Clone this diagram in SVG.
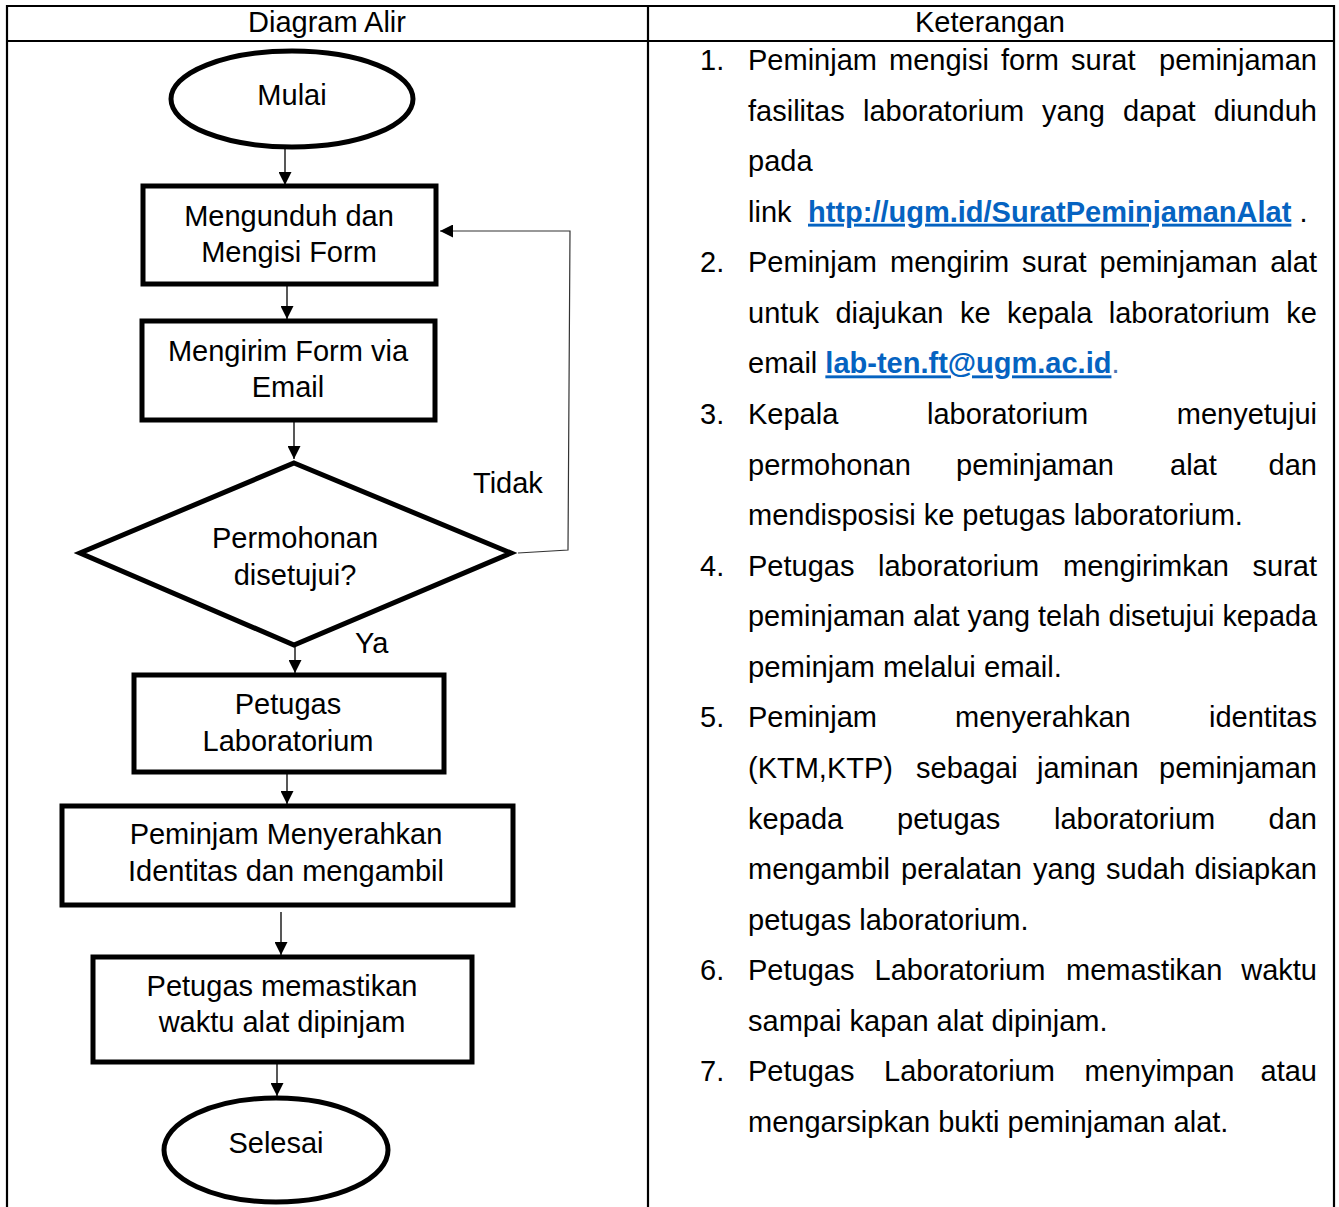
<svg xmlns="http://www.w3.org/2000/svg" width="1339" height="1207" viewBox="0 0 1339 1207">
<style>
.t{font-family:"Liberation Sans",Arial,sans-serif;font-size:29px;fill:#000}
.c{text-anchor:middle}
.e{text-anchor:end}
.lnk{fill:#0563C1;font-weight:bold;text-decoration:underline}
.shape{fill:#fff;stroke:#000;stroke-width:5}
.grid{stroke:#000;stroke-width:2.2;fill:none}
.conn{stroke:#111;stroke-width:1.4;fill:none}
.loop{stroke:#333;stroke-width:1.2;fill:none}
</style>
<defs>
<marker id="ah" markerUnits="userSpaceOnUse" markerWidth="14" markerHeight="13" refX="13" refY="6.5" orient="auto">
<path d="M0,0 L13,6.5 L0,13 z" fill="#000"/>
</marker>
</defs>
<rect width="1339" height="1207" fill="#fff"/>

<g id="table">
<path class="grid" d="M7,1207 V6 H1334 V1207 M7,41 H1334 M648,6 V1207"/>
<text class="t c" x="327" y="32">Diagram Alir</text>
<text class="t c" x="990" y="32">Keterangan</text>
</g>

<g id="connectors">
<line class="conn" x1="285" y1="148" x2="285" y2="185" marker-end="url(#ah)"/>
<line class="conn" x1="287" y1="277" x2="287" y2="319" marker-end="url(#ah)"/>
<line class="conn" x1="294" y1="420" x2="294" y2="459" marker-end="url(#ah)"/>
<line class="conn" x1="295" y1="632" x2="295" y2="673" marker-end="url(#ah)"/>
<line class="conn" x1="287" y1="763" x2="287" y2="804" marker-end="url(#ah)"/>
<line class="conn" x1="281" y1="912" x2="281" y2="955" marker-end="url(#ah)"/>
<line class="conn" x1="277" y1="1055" x2="277" y2="1096" marker-end="url(#ah)"/>
<polyline class="loop" points="518,553 568,550 570,231 440,231" marker-end="url(#ah)"/>
<text class="t" x="473" y="493">Tidak</text>
<text class="t" x="355" y="653">Ya</text>
</g>

<g id="n-mulai">
<ellipse class="shape" cx="292" cy="99" rx="121" ry="48"/>
<text class="t c" x="292" y="105">Mulai</text>
</g>
<g id="n-unduh">
<rect class="shape" x="143" y="186" width="293" height="98"/>
<text class="t c" x="289" y="226">Mengunduh dan</text>
<text class="t c" x="289" y="262">Mengisi Form</text>
</g>
<g id="n-kirim">
<rect class="shape" x="142" y="321" width="293" height="99"/>
<text class="t c" x="288" y="361">Mengirim Form via</text>
<text class="t c" x="288" y="397">Email</text>
</g>
<g id="n-setuju">
<polygon class="shape" points="294,463 511,553 294,645 80,553"/>
<text class="t c" x="295" y="548">Permohonan</text>
<text class="t c" x="295" y="585">disetujui?</text>
</g>
<g id="n-petugas">
<rect class="shape" x="134" y="675" width="310" height="97"/>
<text class="t c" x="288" y="714">Petugas</text>
<text class="t c" x="288" y="751">Laboratorium</text>
</g>
<g id="n-serah">
<rect class="shape" x="62" y="806" width="451" height="99"/>
<text class="t c" x="286" y="844">Peminjam Menyerahkan</text>
<text class="t c" x="286" y="881">Identitas dan mengambil</text>
</g>
<g id="n-waktu">
<rect class="shape" x="93" y="957" width="379" height="105"/>
<text class="t c" x="282" y="996">Petugas memastikan</text>
<text class="t c" x="282" y="1032">waktu alat dipinjam</text>
</g>
<g id="n-selesai">
<ellipse class="shape" cx="276" cy="1150" rx="112" ry="52"/>
<text class="t c" x="276" y="1153">Selesai</text>
</g>

<g id="keterangan">
<text class="t" x="700" y="70">1.</text>
<text class="t" x="748" y="70">Peminjam</text>
<text class="t" x="889" y="70">mengisi</text>
<text class="t" x="1001" y="70">form</text>
<text class="t" x="1071" y="70">surat</text>
<text class="t e" x="1317" y="70">peminjaman</text>

<text class="t" x="748" y="120.6">fasilitas</text>
<text class="t" x="863" y="120.6">laboratorium</text>
<text class="t" x="1042" y="120.6">yang</text>
<text class="t" x="1123" y="120.6">dapat</text>
<text class="t e" x="1317" y="120.6">diunduh</text>

<text class="t" x="748" y="171.1">pada</text>

<text class="t" x="748" y="221.7">link</text>
<text class="t" x="808" y="221.7"><tspan class="lnk">http://ugm.id/SuratPeminjamanAlat</tspan> .</text>

<text class="t" x="700" y="272.3">2.</text>
<text class="t" x="748" y="272.3">Peminjam</text>
<text class="t" x="890" y="272.3">mengirim</text>
<text class="t" x="1022" y="272.3">surat</text>
<text class="t" x="1099.5" y="272.3">peminjaman</text>
<text class="t e" x="1317" y="272.3">alat</text>

<text class="t" x="748" y="322.9">untuk</text>
<text class="t" x="835.4" y="322.9">diajukan</text>
<text class="t" x="960" y="322.9">ke</text>
<text class="t" x="1007" y="322.9">kepala</text>
<text class="t" x="1108.8" y="322.9">laboratorium</text>
<text class="t e" x="1317" y="322.9">ke</text>

<text class="t" x="748" y="373.4">email <tspan class="lnk">lab-ten.ft@ugm.ac.id</tspan><tspan fill="#4a72b0">.</tspan></text>

<text class="t" x="700" y="424">3.</text>
<text class="t" x="748" y="424">Kepala</text>
<text class="t" x="927" y="424">laboratorium</text>
<text class="t e" x="1317" y="424">menyetujui</text>

<text class="t" x="748" y="474.6">permohonan</text>
<text class="t" x="956" y="474.6">peminjaman</text>
<text class="t" x="1170" y="474.6">alat</text>
<text class="t e" x="1317" y="474.6">dan</text>

<text class="t" x="748" y="525.1">mendisposisi ke petugas laboratorium.</text>

<text class="t" x="700" y="575.7">4.</text>
<text class="t" x="748" y="575.7">Petugas</text>
<text class="t" x="878" y="575.7">laboratorium</text>
<text class="t" x="1063" y="575.7">mengirimkan</text>
<text class="t e" x="1317" y="575.7">surat</text>

<text class="t" x="748" y="626.3" textLength="569" lengthAdjust="spacingAndGlyphs">peminjaman alat yang telah disetujui kepada</text>

<text class="t" x="748" y="676.8" textLength="314" lengthAdjust="spacingAndGlyphs">peminjam melalui email.</text>

<text class="t" x="700" y="727.4">5.</text>
<text class="t" x="748" y="727.4">Peminjam</text>
<text class="t" x="955" y="727.4">menyerahkan</text>
<text class="t e" x="1317" y="727.4">identitas</text>

<text class="t" x="748" y="778">(KTM,KTP)</text>
<text class="t" x="916" y="778">sebagai</text>
<text class="t" x="1037" y="778">jaminan</text>
<text class="t e" x="1317" y="778">peminjaman</text>

<text class="t" x="748" y="828.6">kepada</text>
<text class="t" x="897" y="828.6">petugas</text>
<text class="t" x="1054" y="828.6">laboratorium</text>
<text class="t e" x="1317" y="828.6">dan</text>

<text class="t" x="748" y="879.1">mengambil</text>
<text class="t" x="901" y="879.1">peralatan</text>
<text class="t" x="1033" y="879.1">yang</text>
<text class="t" x="1106" y="879.1">sudah</text>
<text class="t e" x="1317" y="879.1">disiapkan</text>

<text class="t" x="748" y="929.7">petugas laboratorium.</text>

<text class="t" x="700" y="980.3">6.</text>
<text class="t" x="748" y="980.3">Petugas</text>
<text class="t" x="874.5" y="980.3">Laboratorium</text>
<text class="t" x="1066" y="980.3">memastikan</text>
<text class="t e" x="1317" y="980.3">waktu</text>

<text class="t" x="748" y="1030.8">sampai kapan alat dipinjam.</text>

<text class="t" x="700" y="1081.4">7.</text>
<text class="t" x="748" y="1081.4">Petugas</text>
<text class="t" x="884" y="1081.4">Laboratorium</text>
<text class="t" x="1084.5" y="1081.4">menyimpan</text>
<text class="t e" x="1317" y="1081.4">atau</text>

<text class="t" x="748" y="1132">mengarsipkan bukti peminjaman alat.</text>
</g>
</svg>
